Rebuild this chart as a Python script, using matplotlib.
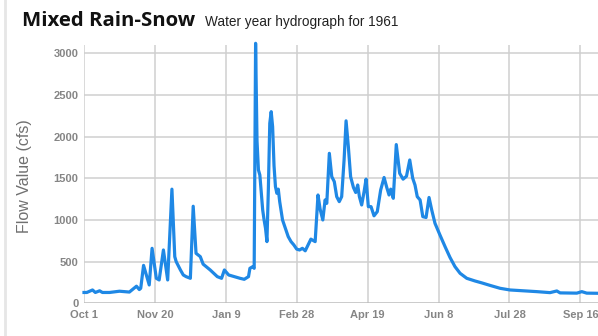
import matplotlib
matplotlib.use("Agg")
import matplotlib.pyplot as plt
from matplotlib.lines import Line2D

# Daily flow readings, water year 1961 (day 0 = Oct 1, 1960)
days = [0, 2, 6, 8, 11, 13, 18, 25, 32, 37, 39, 40, 42, 46, 48, 51, 53, 56, 59,
        62, 64, 65, 68, 70, 72, 75, 77, 79, 82, 84, 89, 94, 97, 99, 102, 106,
        110, 113, 116, 117, 119, 120, 121, 122, 123, 124, 126, 127, 128, 129,
        130, 131, 132, 133, 134, 135, 136, 137, 138, 140, 142, 144, 146, 148,
        150, 152, 154, 156, 158, 160, 162, 163, 165, 166.5, 168.4, 170, 171.2,
        173, 174.7, 176.5, 178.2, 180, 181.7, 183.4, 184.8, 186.4, 188, 190,
        191.6, 193, 194.2, 195.8, 197.5, 198.9, 200.5, 202.4, 204.5, 206.8,
        209.2, 211.6, 213.5, 215.1, 216.3, 218.1, 220.2, 222.6, 225, 227.4,
        229.7, 231.8, 233.4, 235, 237, 238.9, 241.2, 243.3, 245.2, 247.5, 251,
        254.6, 258.1, 261.6, 265.2, 269.9, 275.7, 280.5, 286.3, 293.4, 300.4,
        309.8, 319.3, 328.6, 333.4, 335.7, 347.5, 351, 354.5, 362.5, 364]
flow = [130, 130, 160, 130, 150, 130, 130, 145, 135, 205, 165, 180, 455, 220,
        660, 300, 280, 640, 280, 1370, 560, 500, 400, 340, 320, 300, 1165, 600,
        560, 470, 400, 320, 300, 400, 340, 320, 300, 288, 320, 420, 440, 420,
        3120, 1950, 1600, 1540, 1120, 1000, 900, 740, 1370, 2160, 2300, 2120,
        1650, 1400, 1320, 1370, 1220, 1000, 900, 800, 740, 700, 650, 640, 660,
        630, 700, 770, 750, 740, 1300, 1130, 1000, 1240, 1200, 1800, 1520, 1460,
        1280, 1220, 1280, 1720, 2190, 1880, 1520, 1390, 1330, 1420, 1280, 1180,
        1340, 1490, 1160, 1160, 1050, 1100, 1360, 1510, 1390, 1300, 1370, 1260,
        1905, 1560, 1490, 1525, 1720, 1500, 1420, 1280, 1240, 1040, 1030, 1270,
        1120, 960, 820, 680, 550, 440, 360, 300, 268, 245, 215, 180, 160, 150,
        140, 128, 148, 125, 122, 140, 122, 120, 120]

tick_days = [0, 50, 100, 150, 200, 250, 300, 350]
tick_labels = ["Oct 1", "Nov 20", "Jan 9", "Feb 28", "Apr 19", "Jun 8",
               "Jul 28", "Sep 16"]
y_ticks = [0, 500, 1000, 1500, 2000, 2500, 3000]

W, H = 598, 336
fig = plt.figure(figsize=(W / 100, H / 100), dpi=100)
fig.patch.set_facecolor("white")

left, right, top, bottom = 84, 600.2, 45, 303.3
ax = fig.add_axes([left / W, (H - bottom) / H, (right - left) / W, (bottom - top) / H])
ax.set_xlim(0, 364)
ax.set_ylim(0, 3100)

grid_c = "#cfcfcf"
for t in tick_days:
    ax.axvline(t, color=grid_c, lw=1.1, zorder=1)
for v in y_ticks:
    ax.axhline(v, color="#bdbdbd" if v == 0 else grid_c, lw=1.1, zorder=1)

ax.plot(days, flow, color="#1f88e5", lw=2.3, solid_joinstyle="round",
        zorder=3, clip_on=False)

for s in ax.spines.values():
    s.set_visible(False)
ax.set_xticks(tick_days)
ax.set_xticklabels(tick_labels)
ax.set_yticks(y_ticks)
ax.set_yticklabels([str(v) for v in y_ticks])
ax.tick_params(length=0, labelsize=8, labelcolor="#858585", pad=4)
for lab in ax.get_xticklabels() + ax.get_yticklabels():
    lab.set_family("Liberation Sans")
    lab.set_fontweight("bold")
ax.tick_params(axis="x", pad=5)

fig.text(24.5 / W, 1 - 176 / H, "Flow Value (cfs)", rotation=90,
         ha="center", va="center", fontsize=11.5, color="#707070",
         family="Liberation Sans")

fig.text(22.5 / W, 1 - 25.7 / H, "Mixed Rain-Snow", ha="left", va="baseline",
         fontsize=14.7, fontweight="bold", color="#111111", family="Open Sans")
fig.text(205 / W, 1 - 25.7 / H, "Water year hydrograph for 1961", ha="left",
         va="baseline", fontsize=9.8, color="#222222", family="Liberation Sans")

# thin frame edge on the left side of the panel
fig.add_artist(Line2D([5 / W, 5 / W], [0, 1], transform=fig.transFigure,
                      color="#e6e6e6", lw=2))

fig.savefig("out.png", dpi=100)
